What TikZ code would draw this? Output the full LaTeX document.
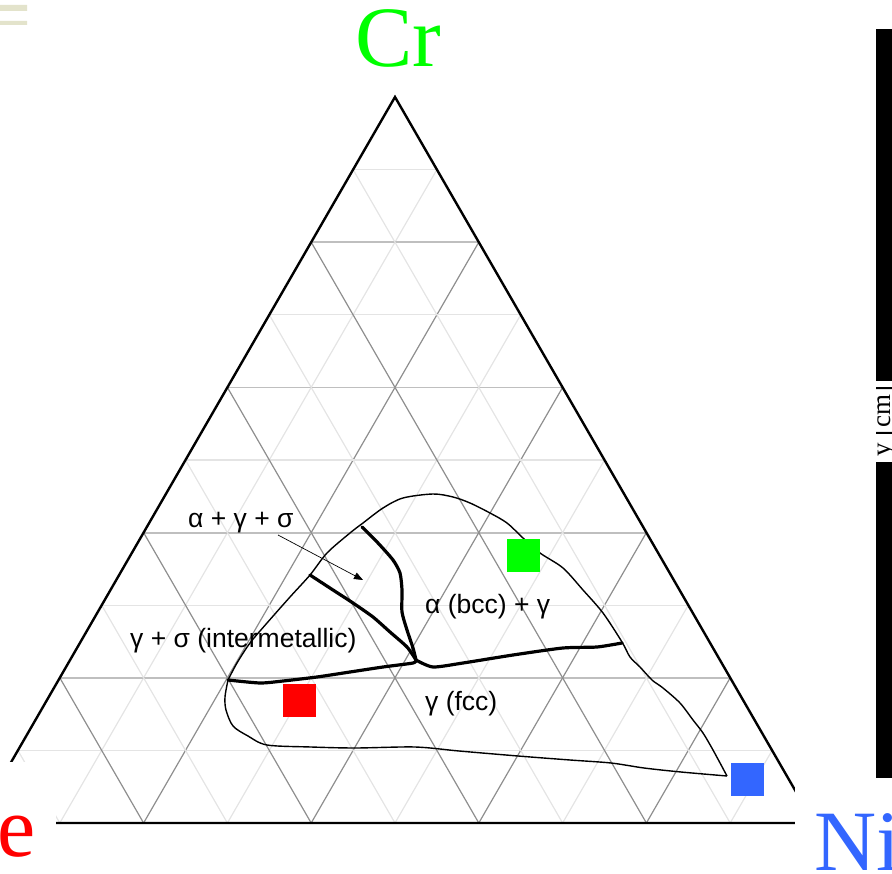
\documentclass[tikz,border=0pt]{standalone}
\usepackage{fontspec}
\setmainfont{Liberation Serif}
\newfontfamily\phasefont{Liberation Sans}
\usetikzlibrary{arrows.meta,calc}
\definecolor{feRed}{HTML}{FF0000}
\definecolor{crGreen}{HTML}{00FF00}
\definecolor{niBlue}{HTML}{3366FF}
\definecolor{gridDark}{HTML}{8E8E8E}
\definecolor{gridLight}{HTML}{E4E4E4}
\definecolor{tabBeige}{HTML}{E3E3CB}

\begin{document}
\begin{tikzpicture}[x=1pt,y=-1pt,>={Triangle[length=9pt,width=7pt]},
    elem/.style={font=\fontsize{86}{86}\selectfont,inner sep=0},
    phase/.style={font=\phasefont\fontsize{26.5}{26.5}\selectfont,inner sep=0},
    bound/.style={line width=1.4pt,line join=round},
    tieline/.style={line width=3.2pt,line join=round,line cap=round},
    marker/.style={minimum size=33pt,inner sep=0,draw=none}]
  \useasboundingbox (0,0) rectangle (892,874);
  \clip (0,0) rectangle (892,874);
  \fill[tabBeige] (0,5) rectangle (27,11) (0,21) rectangle (27,25);
  % corners of the triangle
  \coordinate (fe) at (-24,823);
  \coordinate (ni) at (814,823);
  \coordinate (cr) at (395,97);
  % 10 % grid, every second line darker
  \foreach \k in {1,...,9}{
    \pgfmathsetmacro\t{\k/10}
    \ifodd\k
      \draw[gridLight,line width=1.2pt] ($(fe)!\t!(cr)$) -- ($(ni)!\t!(cr)$);
      \draw[gridLight,line width=1.2pt] ($(fe)!\t!(ni)$) -- ($(cr)!\t!(ni)$);
      \draw[gridLight,line width=1.2pt] ($(fe)!\t!(ni)$) -- ($(fe)!\t!(cr)$);
    \else
      \draw[gray!50,line width=1.8pt] ($(fe)!\t!(cr)$) -- ($(ni)!\t!(cr)$);
      \draw[gridDark,line width=1.2pt] ($(fe)!\t!(ni)$) -- ($(cr)!\t!(ni)$);
      \draw[gridDark,line width=1.2pt] ($(fe)!\t!(ni)$) -- ($(fe)!\t!(cr)$);
    \fi
  }
  \draw[line width=2.4pt,line join=miter] (fe) -- (ni) -- (cr) -- cycle;
  % phase boundaries
  \draw[bound] plot[smooth,tension=0.5] coordinates {(228,680) (237,663) (250,643) (267,623) (290,597) (310,575) (327,553) (350,533) (363,523) (383,508) (403,498) (433,494) (453,497) (470,503) (490,513) (507,523) (523,538) (540,553) (563,568) (583,590) (603,613) (622,642) (630,657) (640,667) (652,680) (663,688) (680,703) (693,720) (703,733) (713,750) (727,776)};
  \draw[bound] plot[smooth,tension=0.5] coordinates {(727,776) (681,772) (644,768) (611,763) (570,760) (518,756) (459,751) (415,747) (355,748) (311,747) (267,745) (248,736) (233,726) (226,710) (225,697) (228,680)};
  \draw[tieline] plot[smooth,tension=0.4] coordinates {(228,680) (260,683) (283,681) (317,677) (350,672) (383,667) (413,663) (416,660)};
  \draw[tieline] plot[smooth,tension=0.4] coordinates {(416,660) (433,667) (463,663) (513,655) (563,648) (597,647) (622,643)};
  \draw[tieline] plot[smooth,tension=0.4] coordinates {(310,575) (333,590) (353,603) (373,617) (390,632) (407,647) (416,660)};
  \draw[tieline] plot[smooth,tension=0.4] coordinates {(362,527) (378,543) (393,560) (400,573) (402,590) (402,612) (407,630) (413,648) (416,660)};
  % phase labels
  \node[phase,anchor=base west] (ags) at (188,527) {α + γ + σ};
  \node[phase,anchor=base west] (gs) at (130,647) {γ + σ (intermetallic)};
  \node[phase,anchor=base west] (abg) at (425,613) {α (bcc) + γ};
  \node[phase,anchor=base west] (gf) at (425,710) {γ (fcc)};
  \coordinate (agsFoot) at (278,535);
  \coordinate (agsTip) at (363,580);
  \draw[->,line width=0.7pt] (agsFoot) -- (agsTip);
  % alloy markers
  \node[marker,fill=crGreen] (crSq) at (523.5,555.5) {};
  \node[marker,fill=feRed] (feSq) at (299.5,700) {};
  \node[marker,fill=niBlue] (niSq) at (747.5,779.5) {};
  % cut edges of the slide
  \fill[white] (0,762) rectangle (56,874);
  \fill[white] (795,778) rectangle (892,874);
  \fill[black] (876,29) rectangle (892,778);
  \begin{scope}
    \clip (876,29) rectangle (892,778);
    \fill[white] (876,381) rectangle (892,462);
    \node[rotate=90,anchor=base,inner sep=0,font=\fontsize{27}{27}\selectfont] (axisLbl) at (890,421) {y [cm]};
  \end{scope}
  % element labels
  \node[elem,crGreen,anchor=base] (crLbl) at (398,67) {Cr};
  \node[elem,feRed,anchor=base east] (feLbl) at (36,856) {Fe};
  \node[elem,niBlue,anchor=base west] (niLbl) at (814,870) {Ni};
\end{tikzpicture}
\end{document}
